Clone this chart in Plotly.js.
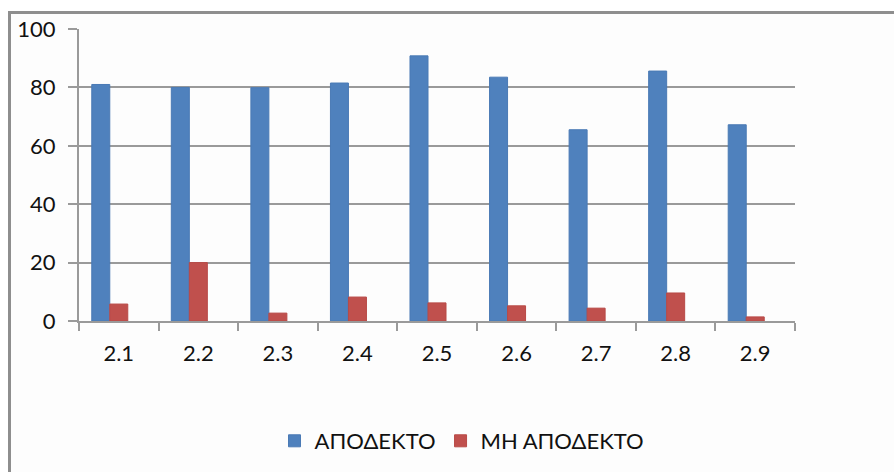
<!DOCTYPE html>
<html>
<head>
<meta charset="utf-8">
<script src="https://cdn.plot.ly/plotly-3.0.1.min.js"></script>
<style>
html,body{margin:0;padding:0;background:#fff;}
#chart{width:894px;height:472px;}
</style>
</head>
<body>
<div id="chart"></div>
<script>
const categories = ["2.1","2.2","2.3","2.4","2.5","2.6","2.7","2.8","2.9"];
const acceptable = [81, 80, 79.9, 81.5, 90.8, 83.5, 65.5, 85.6, 67.2];
const notAcceptable = [5.8, 20, 2.7, 8.2, 6.2, 5.2, 4.4, 9.6, 1.4];
const emptySeries = [null, null, null, null, null, null, null, null, null];
const seriesNames = ["ΑΠΟΔΕΚΤΟ", "ΜΗ ΑΠΟΔΕΚΤΟ"];
const yTicks = [0, 20, 40, 60, 80, 100];

// plot area in pixels
const W = 894, H = 472;
const L = 79, R = 795, T = 29, B = 322;
const px = x => (x - L) / (R - L);
const py = y => (B - y) / (B - T);

const traces = [
  {type:'bar', name: seriesNames[0], x: categories, y: acceptable,
   marker:{color:'#4F81BD', line:{color:'#4A7AB5', width:1}}, hoverinfo:'x+y'},
  {type:'bar', name: seriesNames[1], x: categories, y: notAcceptable,
   marker:{color:'#C0504D', line:{color:'#B84A47', width:1}}, hoverinfo:'x+y'},
  {type:'bar', name: '', x: categories, y: emptySeries, showlegend:false,
   marker:{color:'rgba(0,0,0,0)'}}
];

const layout = {
  width: W, height: H,
  margin: {l: L, r: W - R, t: T, b: H - B, pad: 0},
  paper_bgcolor: '#ffffff',
  plot_bgcolor: 'rgba(0,0,0,0)',
  barmode: 'group',
  bargap: 0.321,
  bargroupgap: 0,
  font: {family: 'Lato, "Open Sans", sans-serif', color: '#111', size: 22},
  showlegend: true,
  legend: {orientation: 'h', x: px(462), xanchor: 'center', y: py(441), yanchor: 'middle',
           font: {size: 22, color: '#111'}, bgcolor: 'rgba(0,0,0,0)', itemwidth: 30, traceorder: 'normal'},
  xaxis: {
    type: 'category',
    showgrid: false,
    showline: true, linecolor: '#9a9a9a', linewidth: 2,
    ticks: 'outside', ticklen: 8, tickcolor: '#9a9a9a', tickwidth: 2,
    tickson: 'boundaries',
    ticklabelstandoff: 12,
    tickfont: {size: 22, color: '#111'},
    fixedrange: true
  },
  yaxis: {
    range: [0, 100],
    tickvals: yTicks,
    ticktext: yTicks.map(String),
    showgrid: true, gridcolor: '#9a9a9a', gridwidth: 2,
    zeroline: false,
    showline: true, linecolor: '#9a9a9a', linewidth: 2,
    ticks: 'outside', ticklen: 9, tickcolor: '#9a9a9a', tickwidth: 2,
    ticklabelstandoff: 8,
    tickfont: {size: 22, color: '#111'},
    fixedrange: true
  },
  shapes: [
    {type:'rect', xref:'paper', yref:'paper', layer:'below',
     x0: px(9.5), x1: px(905), y0: py(12.5), y1: py(485),
     line:{color:'#8e8e8e', width:3}, fillcolor:'#fdfdfd'}
  ]
};

Plotly.newPlot('chart', traces, layout, {displayModeBar:false, staticPlot:true});
</script>
</body>
</html>
